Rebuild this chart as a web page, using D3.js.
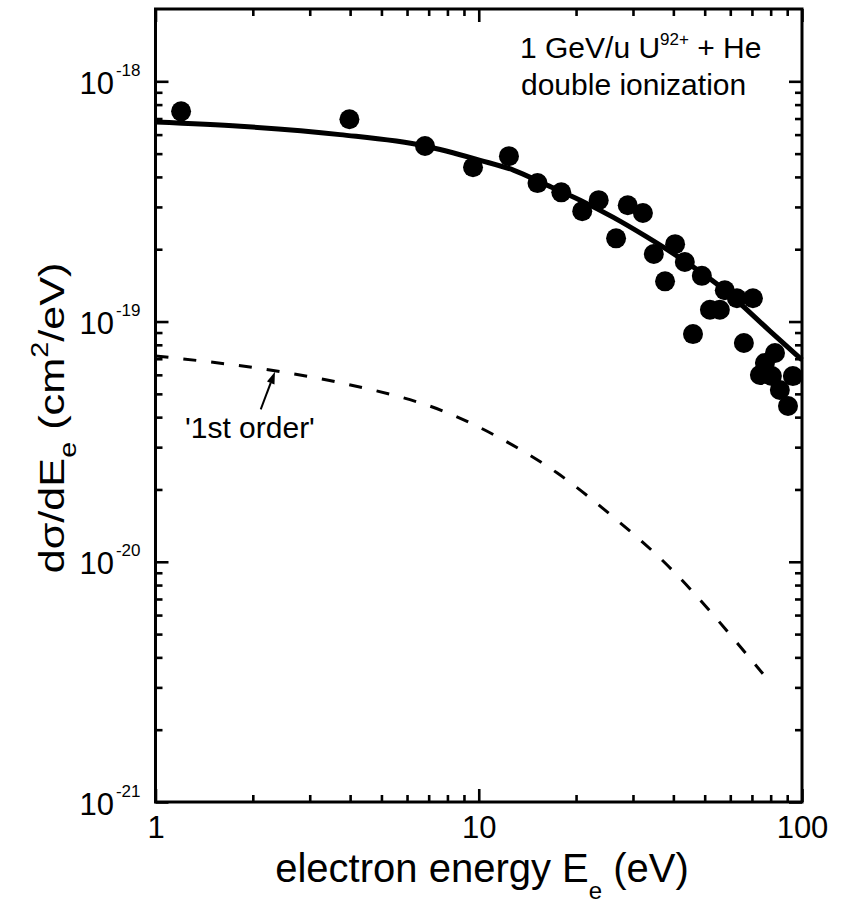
<!DOCTYPE html>
<html><head><meta charset="utf-8">
<script src="https://cdn.jsdelivr.net/npm/d3@7"></script>
<style>
body{margin:0;background:#fff}
svg{display:block}
text{font-family:"Liberation Sans",Arial,Helvetica,sans-serif;fill:#000}
</style>
</head><body>
<svg id="c" width="844" height="904"></svg>
<script>
// ---- data ----
const expEnergy = [1.20, 3.98, 6.82, 9.60, 12.4, 15.2, 18.0, 20.9, 23.5, 26.6, 28.9, 32.2, 34.8, 40.5, 37.7, 43.4, 49.0, 46.0, 51.9, 55.7, 57.7, 62.9, 70.5, 66.1, 82.5, 76.8, 74.1, 80.7, 93.7, 85.4, 90.5];
const expSigma  = [7.50e-19, 6.95e-19, 5.38e-19, 4.39e-19, 4.88e-19, 3.77e-19, 3.45e-19, 2.88e-19, 3.20e-19, 2.22e-19, 3.05e-19, 2.83e-19, 1.91e-19, 2.10e-19, 1.47e-19, 1.77e-19, 1.55e-19, 8.87e-20, 1.12e-19, 1.12e-19, 1.35e-19, 1.25e-19, 1.25e-19, 8.14e-20, 7.40e-20, 6.72e-20, 5.99e-20, 5.93e-20, 5.93e-20, 5.19e-20, 4.45e-20];

const fitEnergy = [1, 1.83, 3.72, 6.82, 10.1, 12.8, 16.3, 20.6, 26.0, 33.1, 41.9, 57.7, 79.6, 100];
const fitSigma  = [6.77e-19, 6.50e-19, 6.00e-19, 5.38e-19, 4.69e-19, 4.27e-19, 3.69e-19, 3.20e-19, 2.72e-19, 2.25e-19, 1.84e-19, 1.35e-19, 9.13e-20, 6.92e-20];

const firstEnergy = [1, 2.26, 3.64, 8.32, 11.6, 17.5, 26.0, 38.2, 53.8, 62.9, 75.7];
const firstSigma  = [7.19e-20, 6.28e-20, 5.60e-20, 4.08e-20, 3.28e-20, 2.34e-20, 1.54e-20, 9.72e-21, 5.90e-21, 4.60e-21, 3.42e-21];

const xTickValues = [1, 10, 100];
const xTickLabels = ["1", "10", "100"];
const yTickExponents = [-21, -20, -19, -18];
const yTickSuper = ["-21", "-20", "-19", "-18"];

const arrowTail = [2.116, 4.31e-20];
const arrowHead = [2.342, 6.18e-20];

// ---- layout ----
const W = 844, H = 904;
const L = 155.5, R = 802, T = 9, B = 802;
const svg = d3.select("#c");
svg.append("rect").attr("width", W).attr("height", H).attr("fill", "#fff");

const x = d3.scaleLog().domain([1, 100]).range([L, R]);
const y = d3.scaleLog().domain([1e-21, 2e-18]).range([B, T]);

const xMinor = [];
[1, 10].forEach(dec => { for (let k = 2; k <= 9; k++) xMinor.push(k * dec); });
const yMinor = [];
[-21, -20, -19].forEach(n => { for (let k = 2; k <= 9; k++) yMinor.push(k * Math.pow(10, n)); });
const yMajor = yTickExponents.map(n => Math.pow(10, n));

const MAJ = 13, MIN = 7;
function styleAxis(g) {
  g.select(".domain").remove();
  g.selectAll(".tick line").attr("stroke", "#000").attr("stroke-width", 2.6);
}

// bottom
svg.append("g").attr("transform", `translate(0,${B})`)
  .call(d3.axisBottom(x).tickValues(xTickValues).tickSizeInner(-MAJ).tickSizeOuter(0).tickPadding(14)
    .tickFormat((d, i) => xTickLabels[i]))
  .call(styleAxis)
  .call(g => g.selectAll("text").attr("font-size", 31).attr("font-family", null));
svg.append("g").attr("transform", `translate(0,${B})`)
  .call(d3.axisBottom(x).tickValues(xMinor).tickSizeInner(-MIN).tickSizeOuter(0).tickFormat(""))
  .call(styleAxis);
// top
svg.append("g").attr("transform", `translate(0,${T})`)
  .call(d3.axisTop(x).tickValues(xTickValues).tickSizeInner(-MAJ).tickSizeOuter(0).tickFormat(""))
  .call(styleAxis);
svg.append("g").attr("transform", `translate(0,${T})`)
  .call(d3.axisTop(x).tickValues(xMinor).tickSizeInner(-MIN).tickSizeOuter(0).tickFormat(""))
  .call(styleAxis);
// left
const leftAx = svg.append("g").attr("transform", `translate(${L},0)`)
  .call(d3.axisLeft(y).tickValues(yMajor).tickSizeInner(-MAJ).tickSizeOuter(0).tickFormat(""))
  .call(styleAxis);
svg.append("g").attr("transform", `translate(${L},0)`)
  .call(d3.axisLeft(y).tickValues(yMinor).tickSizeInner(-MIN).tickSizeOuter(0).tickFormat(""))
  .call(styleAxis);
// right
svg.append("g").attr("transform", `translate(${R},0)`)
  .call(d3.axisRight(y).tickValues(yMajor).tickSizeInner(-MAJ).tickSizeOuter(0).tickFormat(""))
  .call(styleAxis);
svg.append("g").attr("transform", `translate(${R},0)`)
  .call(d3.axisRight(y).tickValues(yMinor).tickSizeInner(-MIN).tickSizeOuter(0).tickFormat(""))
  .call(styleAxis);

// y tick labels with superscripts
leftAx.selectAll(".tick").each(function(d, i) {
  const t = d3.select(this).append("text")
    .attr("x", -15).attr("y", 12).attr("text-anchor", "end").attr("fill", "#000");
  t.append("tspan").attr("font-size", 31).text("10");
  t.append("tspan").attr("font-size", 17).attr("dy", -18).attr("dx", 2).text(yTickSuper[i]);
});

// frame
svg.append("rect").attr("x", L).attr("y", T).attr("width", R - L).attr("height", B - T)
  .attr("fill", "none").attr("stroke", "#000").attr("stroke-width", 3);

// curves
const line = d3.line().x(d => x(d[0])).y(d => y(d[1])).curve(d3.curveMonotoneX);
svg.append("path").datum(fitEnergy.map((e, i) => [e, fitSigma[i]]))
  .attr("d", line).attr("fill", "none").attr("stroke", "#000").attr("stroke-width", 5);
svg.append("path").datum(firstEnergy.map((e, i) => [e, firstSigma[i]]))
  .attr("d", line).attr("fill", "none").attr("stroke", "#000").attr("stroke-width", 3)
  .attr("stroke-dasharray", "13,15").attr("stroke-dashoffset", 0);

// points
svg.append("g").selectAll("circle").data(expEnergy.map((e, i) => [e, expSigma[i]]))
  .join("circle").attr("cx", d => x(d[0])).attr("cy", d => y(d[1])).attr("r", 10).attr("fill", "#000");

// arrow
const ax0 = x(arrowTail[0]), ay0 = y(arrowTail[1]), ax1 = x(arrowHead[0]), ay1 = y(arrowHead[1]);
const ang = Math.atan2(ay1 - ay0, ax1 - ax0);
const hl = 12, hw = 4;
const bx = ax1 - hl * Math.cos(ang), by = ay1 - hl * Math.sin(ang);
svg.append("line").attr("x1", ax0).attr("y1", ay0).attr("x2", bx).attr("y2", by)
  .attr("stroke", "#000").attr("stroke-width", 2);
svg.append("polygon").attr("points", [
  [ax1, ay1],
  [bx + hw * Math.sin(ang), by - hw * Math.cos(ang)],
  [bx - hw * Math.sin(ang), by + hw * Math.cos(ang)]
].map(p => p.join(",")).join(" ")).attr("fill", "#000");

// annotations
const a1 = svg.append("text").attr("x", 520).attr("y", 58).attr("font-size", 30);
a1.append("tspan").text("1 GeV/u U");
a1.append("tspan").attr("font-size", 17).attr("dy", -13).text("92+");
a1.append("tspan").attr("dy", 13).text(" + He");
svg.append("text").attr("x", 521).attr("y", 95).attr("font-size", 30).text("double ionization");
svg.append("text").attr("x", 185).attr("y", 438).attr("font-size", 30).text("'1st order'");

// axis titles
const xt = svg.append("text").attr("x", 482).attr("y", 882).attr("text-anchor", "middle").attr("font-size", 40);
xt.append("tspan").text("electron energy E");
xt.append("tspan").attr("font-size", 24).attr("dy", 17).text("e");
xt.append("tspan").attr("dy", -17).text(" (eV)");

const yt = svg.append("text").attr("transform", "translate(64,418) rotate(-90) scale(1.2,1)")
  .attr("text-anchor", "middle").attr("font-size", 36);
yt.append("tspan").text("dσ/dE");
yt.append("tspan").attr("font-size", 24).attr("dy", 12).text("e");
yt.append("tspan").attr("dy", -12).text(" (cm");
yt.append("tspan").attr("font-size", 24).attr("dy", -16).text("2");
yt.append("tspan").attr("dy", 16).text("/eV)");
</script>
</body></html>
